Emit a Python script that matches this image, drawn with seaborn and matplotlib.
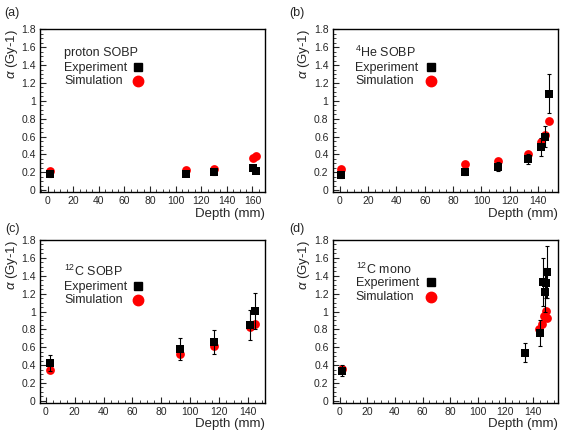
import numpy as np
import pandas as pd
import matplotlib
matplotlib.use('Agg')
import matplotlib.pyplot as plt
import seaborn as sns
from matplotlib.lines import Line2D
from matplotlib.ticker import MultipleLocator, FuncFormatter

# Values: alpha (Gy-1) against depth (mm)
# (a) proton SOBP
p_exp_depth = [1.5, 108, 130, 160.5, 163]
p_exp_alpha = [0.18, 0.18, 0.20, 0.25, 0.22]
p_exp_err = [0.03, 0.02, 0.03, 0.03, 0.03]
p_sim_depth = [1.5, 108, 130, 160.5, 163]
p_sim_alpha = [0.21, 0.23, 0.235, 0.365, 0.38]

# (b) 4He SOBP
he_exp_depth = [1, 88.6, 111.7, 132.9, 141.7, 144.8, 147.6]
he_exp_alpha = [0.17, 0.20, 0.26, 0.35, 0.48, 0.60, 1.08]
he_exp_err = [0.03, 0.03, 0.05, 0.06, 0.10, 0.12, 0.22]
he_sim_depth = [1, 88.6, 111.7, 132.9, 141.7, 144.8, 147.6]
he_sim_alpha = [0.24, 0.29, 0.33, 0.41, 0.54, 0.62, 0.77]

# (c) 12C SOBP
cs_exp_depth = [3, 92.8, 116.5, 141.7, 144.6]
cs_exp_alpha = [0.42, 0.58, 0.66, 0.85, 1.01]
cs_exp_err = [0.09, 0.12, 0.13, 0.17, 0.20]
cs_sim_depth = [3, 92.8, 116.5, 141.7, 144.6]
cs_sim_alpha = [0.35, 0.53, 0.61, 0.83, 0.86]

# (d) 12C mono
cm_exp_depth = [1.5, 134.4, 145.3, 147.3, 148.3, 149.5, 150.4]
cm_exp_alpha = [0.34, 0.54, 0.76, 1.33, 1.22, 1.32, 1.44]
cm_exp_err = [0.06, 0.11, 0.15, 0.27, 0.22, 0.17, 0.29]
cm_sim_depth = [1.5, 144.6, 146.5, 148.0, 149.0, 150.2]
cm_sim_alpha = [0.36, 0.80, 0.86, 0.95, 1.01, 0.93]

panels = [
    ('(a)', 'proton SOBP', p_exp_depth, p_exp_alpha, p_exp_err, p_sim_depth, p_sim_alpha, (-6, 170)),
    ('(b)', '$^{4}$He SOBP', he_exp_depth, he_exp_alpha, he_exp_err, he_sim_depth, he_sim_alpha, (-5, 154)),
    ('(c)', '$^{12}$C SOBP', cs_exp_depth, cs_exp_alpha, cs_exp_err, cs_sim_depth, cs_sim_alpha, (-4, 152)),
    ('(d)', '$^{12}$C mono', cm_exp_depth, cm_exp_alpha, cm_exp_err, cm_sim_depth, cm_sim_alpha, (-5, 158)),
]

sns.set_style('white')
plt.rcParams['font.family'] = ['Liberation Sans', 'DejaVu Sans']
plt.rcParams['mathtext.fontset'] = 'custom'
plt.rcParams['mathtext.rm'] = 'Liberation Sans'
plt.rcParams['mathtext.it'] = 'Liberation Sans:italic'

fig = plt.figure(figsize=(5.61, 4.33), dpi=100)
boxes = [(0.0713, 0.5566), (0.593, 0.5566), (0.0713, 0.070), (0.593, 0.070)]
tags = [(12, 13), (297, 13), (12, 229), (297, 229)]
# key block: (text left, title y, step title->exp, step exp->sim)
keys = [(0.107, 0.856, 0.094, 0.080), (0.100, 0.856, 0.094, 0.080),
        (0.107, 0.804, 0.090, 0.082), (0.103, 0.818, 0.084, 0.082)]

for (tag, name, ex, ey, ee, sx, sy, xl), (l, b), (tx, ty), (kx, ky, s1, s2) in zip(panels, boxes, tags, keys):
    ax = fig.add_axes([l, b, 0.4016, 0.3757])
    sim_df = pd.DataFrame({'depth': sx, 'alpha': sy})
    exp_df = pd.DataFrame({'depth': ex, 'alpha': ey})
    sns.scatterplot(data=sim_df, x='depth', y='alpha', ax=ax, color='#ff0000',
                    marker='o', s=40, linewidth=0, zorder=2)
    ax.errorbar(ex, ey, yerr=ee, fmt='none', ecolor='black', elinewidth=0.8,
                capsize=1.5, capthick=0.8, zorder=3)
    sns.scatterplot(data=exp_df, x='depth', y='alpha', ax=ax, color='black',
                    marker='s', s=38, linewidth=0, zorder=4)

    ax.set_xlim(*xl)
    ax.set_ylim(-0.02, 1.8)
    ax.xaxis.set_major_locator(MultipleLocator(20))
    ax.xaxis.set_minor_locator(MultipleLocator(5))
    ax.yaxis.set_major_locator(MultipleLocator(0.2))
    ax.yaxis.set_minor_locator(MultipleLocator(0.05))
    ax.yaxis.set_major_formatter(FuncFormatter(lambda v, p: f'{v:.1f}'.rstrip('0').rstrip('.') if abs(v) > 1e-9 else '0'))
    ax.tick_params(which='major', direction='in', length=4, width=0.8, labelsize=7.5, pad=3,
                   top=False, right=False, bottom=True, left=True)
    ax.tick_params(which='minor', direction='in', length=2, width=0.6,
                   top=False, right=False, bottom=True, left=True)
    for sp in ax.spines.values():
        sp.set_color('black')
        sp.set_linewidth(1.0)

    ax.set_xlabel('Depth (mm)', fontsize=9.5, loc='right', labelpad=1)
    ax.set_ylabel(r'$\alpha$ (Gy-1)', fontsize=9.5, loc='top')
    ax.yaxis.set_label_coords(-0.09, 1.0)

    # key block: text lines on the left, markers in a column on the right
    ax.text(kx, ky, name, transform=ax.transAxes, fontsize=9, ha='left', va='center')
    ax.text(kx, ky - s1, 'Experiment', transform=ax.transAxes, fontsize=9, ha='left', va='center')
    ax.text(kx, ky - s1 - s2, 'Simulation', transform=ax.transAxes, fontsize=9, ha='left', va='center')
    handles = [Line2D([], [], linestyle='none', marker='s', color='black', markersize=5.5),
               Line2D([], [], linestyle='none', marker='o', color='#ff0000', markersize=7.5)]
    ax.legend(handles=handles, loc='center', bbox_to_anchor=(0.436, ky - s1 - s2 / 2 - 0.006),
              frameon=False, fontsize=9, handlelength=1.0, handletextpad=0.0,
              labelspacing=0.18, borderpad=0.0, borderaxespad=0.0)

    fig.text(tx / 561, 1 - ty / 433, tag, ha='center', va='center', fontsize=9)

fig.savefig('out.png', dpi=100)
